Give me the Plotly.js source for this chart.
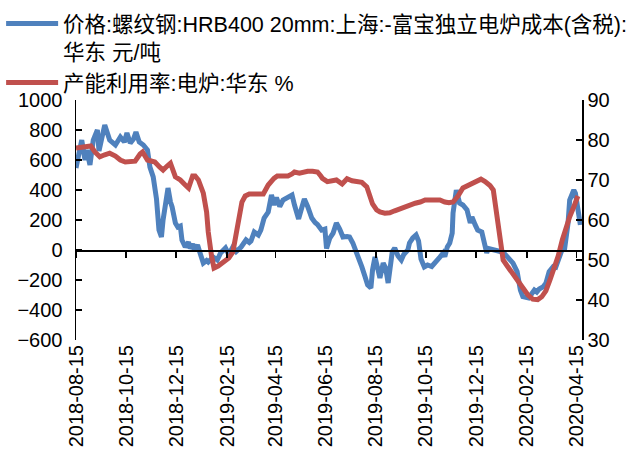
<!DOCTYPE html>
<html>
<head>
<meta charset="utf-8">
<script src="https://cdn.plot.ly/plotly-3.0.1.min.js"></script>
<style>html,body{margin:0;padding:0;background:#fff;}#chart{width:629px;height:461px;}</style>
</head>
<body>
<div id="chart"></div>
<script>
// Series 1: 价格:螺纹钢:HRB400 20mm:上海:-富宝独立电炉成本(含税):华东 元/吨 (left axis)
const blueDates = ['2018-08-15','2018-08-19','2018-08-22','2018-08-26','2018-08-28','2018-09-01','2018-09-05','2018-09-10','2018-09-12','2018-09-16','2018-09-19','2018-09-25','2018-10-02','2018-10-08','2018-10-13','2018-10-16','2018-10-20','2018-10-24','2018-10-27','2018-10-31','2018-11-05','2018-11-10','2018-11-13','2018-11-17','2018-11-21','2018-11-24','2018-11-27','2018-11-29','2018-12-03','2018-12-05','2018-12-08','2018-12-10','2018-12-14','2018-12-17','2018-12-20','2018-12-22','2018-12-26','2018-12-30','2019-01-01','2019-01-04','2019-01-06','2019-01-10','2019-01-13','2019-01-17','2019-01-21','2019-01-23','2019-01-29','2019-02-03','2019-02-07','2019-02-13','2019-02-17','2019-02-22','2019-02-26','2019-03-04','2019-03-10','2019-03-14','2019-03-16','2019-03-20','2019-03-25','2019-03-28','2019-04-01','2019-04-06','2019-04-10','2019-04-13','2019-04-16','2019-04-20','2019-04-24','2019-04-30','2019-05-05','2019-05-08','2019-05-13','2019-05-17','2019-05-20','2019-05-24','2019-05-29','2019-06-02','2019-06-05','2019-06-10','2019-06-14','2019-06-16','2019-06-20','2019-06-24','2019-06-28','2019-07-02','2019-07-06','2019-07-11','2019-07-14','2019-07-18','2019-07-20','2019-07-23','2019-07-24','2019-07-29','2019-08-02','2019-08-05','2019-08-09','2019-08-11','2019-08-14','2019-08-17','2019-08-20','2019-08-24','2019-08-27','2019-08-30','2019-09-04','2019-09-07','2019-09-11','2019-09-15','2019-09-18','2019-09-23','2019-09-25','2019-09-29','2019-10-03','2019-10-06','2019-10-09','2019-10-13','2019-10-17','2019-10-22','2019-10-26','2019-11-01','2019-11-05','2019-11-07','2019-11-10','2019-11-13','2019-11-16','2019-11-17','2019-11-21','2019-11-23','2019-11-25','2019-11-29','2019-12-04','2019-12-08','2019-12-10','2019-12-14','2019-12-17','2019-12-22','2019-12-25','2019-12-28','2019-12-30','2020-01-04','2020-01-10','2020-01-17','2020-01-23','2020-01-29','2020-02-03','2020-02-07','2020-02-10','2020-02-17','2020-02-21','2020-02-24','2020-02-27','2020-03-01','2020-03-06','2020-03-09','2020-03-13','2020-03-18','2020-03-21','2020-03-25','2020-03-30','2020-04-01','2020-04-05','2020-04-07','2020-04-12','2020-04-14','2020-04-16','2020-04-20'];
const blueValues = [547,650,733,600,667,567,733,800,660,760,833,733,700,753,720,780,713,740,787,720,700,667,553,487,340,133,87,200,380,413,320,287,180,153,160,67,20,53,10,40,0,33,-20,-87,-70,-80,-47,-67,-20,13,-30,20,-10,20,67,50,60,120,100,133,213,253,367,300,350,290,333,347,367,300,207,285,340,290,213,183,170,133,140,10,80,113,180,140,87,90,87,47,20,-13,-40,-113,-180,-233,-253,-133,-47,-110,-187,-87,-120,-220,-13,13,-40,-67,-30,0,47,80,100,60,-60,-113,-100,-110,-80,-47,-20,-45,20,47,113,247,400,340,313,300,267,180,220,167,133,120,47,-20,10,0,-5,-15,-47,-87,-144,-267,-311,-320,-290,-267,-280,-260,-244,-222,-144,-111,-115,-56,22,15,178,333,400,378,311,167];

// Series 2: 产能利用率:电炉:华东 % (right axis)
const redDates = ['2018-08-15','2018-08-20','2018-08-25','2018-08-30','2018-09-02','2018-09-07','2018-09-13','2018-09-19','2018-09-25','2018-10-02','2018-10-08','2018-10-14','2018-10-20','2018-10-26','2018-11-01','2018-11-04','2018-11-10','2018-11-15','2018-11-19','2018-11-25','2018-11-29','2018-12-04','2018-12-08','2018-12-14','2018-12-20','2018-12-26','2018-12-30','2019-01-04','2019-01-07','2019-01-11','2019-01-17','2019-01-21','2019-01-23','2019-01-27','2019-01-30','2019-02-04','2019-02-10','2019-02-17','2019-02-22','2019-02-26','2019-03-02','2019-03-05','2019-03-09','2019-03-14','2019-03-22','2019-03-31','2019-04-06','2019-04-10','2019-04-13','2019-04-17','2019-04-24','2019-04-30','2019-05-05','2019-05-08','2019-05-14','2019-05-19','2019-05-24','2019-05-30','2019-06-05','2019-06-09','2019-06-11','2019-06-17','2019-06-24','2019-06-28','2019-07-05','2019-07-08','2019-07-11','2019-07-17','2019-07-23','2019-07-29','2019-08-04','2019-08-08','2019-08-11','2019-08-16','2019-08-20','2019-08-26','2019-09-01','2019-09-07','2019-09-13','2019-09-19','2019-09-25','2019-10-02','2019-10-08','2019-10-14','2019-10-20','2019-10-26','2019-11-01','2019-11-07','2019-11-12','2019-11-17','2019-11-23','2019-11-29','2019-12-04','2019-12-10','2019-12-16','2019-12-21','2019-12-26','2020-01-01','2020-01-05','2020-01-08','2020-01-11','2020-01-15','2020-01-17','2020-01-22','2020-01-28','2020-02-03','2020-02-09','2020-02-16','2020-02-22','2020-02-28','2020-03-04','2020-03-09','2020-03-14','2020-03-19','2020-03-24','2020-03-29','2020-04-03','2020-04-07','2020-04-12','2020-04-17'];
const redValues = [78,78.2,78.2,78.5,78.5,77,75.8,76.3,76.7,76,75,74.5,74.5,74.7,76.5,77,75,74.6,74.5,73.2,72.5,73.5,74.2,70.8,70,68.75,68,71,71,70,66.7,62,57,51,48,48.5,49.3,50.5,52,56,60,64.5,66,66.5,66.5,66.5,68.75,69.8,70.4,71,71,71,71.5,72,71.7,72.1,72.2,72.2,72,71,70.4,69.6,69.8,70,69,69.7,70.3,69.8,69.7,69.4,68.3,66,64,62.5,62,61.7,61.8,62.3,62.8,63.3,63.8,64.2,64.5,65,65,65,65,64.5,64.3,64.5,66,68,68.5,69,69.5,70.2,69.6,68.6,67.5,63,58,52,50,48.5,46.7,45,43.5,41.3,40.2,40.1,40.8,42.3,45,48,51,55,58.8,60.8,63.3,66];

const tickDates = ['2018-08-15','2018-10-15','2018-12-15','2019-02-15','2019-04-15','2019-06-15','2019-08-15','2019-10-15','2019-12-15','2020-02-15','2020-04-15'];
const xRange = ['2018-08-15','2020-04-22'];

const seriesNames = ['价格:螺纹钢:HRB400 20mm:上海:-富宝独立电炉成本(含税):<br>华东 元/吨', '产能利用率:电炉:华东 %'];
const colors = ['#4F81BD', '#C0504D'];

const FONT = 'Liberation Sans, Arial, "Noto Sans CJK SC", sans-serif';

const traces = [
  {x: blueDates, y: blueValues, type: 'scatter', mode: 'lines', name: seriesNames[0],
   line: {color: colors[0], width: 5}, xaxis: 'x', yaxis: 'y'},
  {x: redDates, y: redValues, type: 'scatter', mode: 'lines', name: seriesNames[1],
   line: {color: colors[1], width: 5}, xaxis: 'x', yaxis: 'y2'},
  // empty helper trace so the zero-crossing date axis (ticks on the 0 line) is drawn
  {x: xRange, y: [null, null], type: 'scatter', mode: 'lines', showlegend: false,
   hoverinfo: 'skip', xaxis: 'x2', yaxis: 'y'}
];

const layout = {
  width: 629, height: 461, autosize: false,
  paper_bgcolor: '#fff', plot_bgcolor: 'rgba(0,0,0,0)',
  margin: {l: 76, r: 47, t: 100, b: 121, pad: 0, autoexpand: false},
  font: {family: FONT, size: 20, color: '#000'},
  showlegend: true,
  legend: {x: -0.148, xanchor: 'left', y: 1.404, yanchor: 'top', orientation: 'v',
           font: {family: FONT, size: 21.5, color: '#000'}, bgcolor: 'rgba(0,0,0,0)',
           valign: 'top', tracegroupgap: 0, itemwidth: 52},
  xaxis: {type: 'date', range: xRange, tickvals: tickDates, tickformat: '%Y-%m-%d',
          tickangle: -90, showline: false, ticks: '', showgrid: false, zeroline: false,
          tickfont: {family: FONT, size: 20, color: '#000'}, fixedrange: true},
  xaxis2: {type: 'date', range: xRange, tickvals: tickDates, overlaying: 'x', anchor: 'free',
           position: 0.375, showline: true, linecolor: '#000', linewidth: 1.5,
           ticks: 'outside', ticklen: 6, tickwidth: 1.5, tickcolor: '#000',
           showticklabels: false, showgrid: false, zeroline: false},
  yaxis: {range: [-600, 1000], dtick: 200, tick0: 0, showline: true, linecolor: '#000', linewidth: 1.5,
          ticks: 'inside', ticklen: 6, tickwidth: 1.5, tickcolor: '#000', showgrid: false, zeroline: false,
          ticklabelstandoff: 8,
          tickfont: {family: FONT, size: 20, color: '#000'}},
  yaxis2: {range: [30, 90], dtick: 10, tick0: 30, overlaying: 'y', side: 'right', anchor: 'x',
           showline: true, linecolor: '#000', linewidth: 1.5,
           ticks: 'inside', ticklen: 6, tickwidth: 1.5, tickcolor: '#000', showgrid: false, zeroline: false,
           tickfont: {family: FONT, size: 20, color: '#000'}},
  hovermode: false
};

Plotly.newPlot('chart', traces, layout, {displayModeBar: false, staticPlot: true});
</script>
</body>
</html>
